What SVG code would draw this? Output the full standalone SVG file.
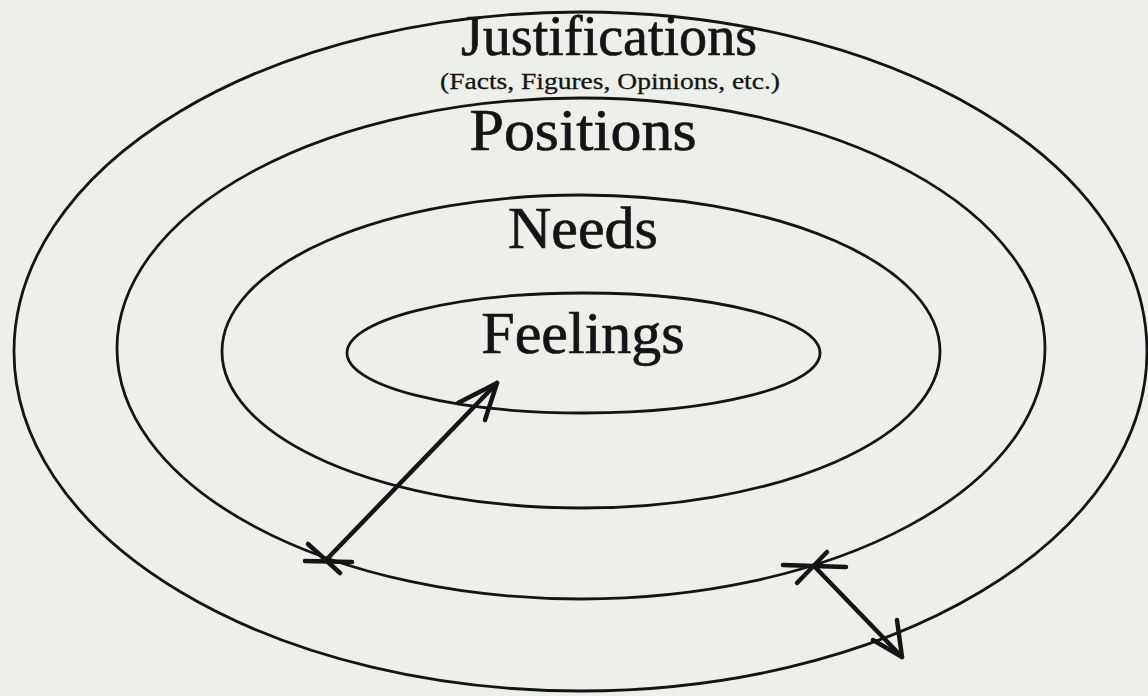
<svg xmlns="http://www.w3.org/2000/svg" width="1148" height="696" viewBox="0 0 1148 696">
  <style>
    .ring { fill: none; stroke: #141414; stroke-width: 2.8; }
    .label { font-family: "Liberation Serif", "Times New Roman", serif; fill: #141414; stroke: #141414; text-anchor: middle; }
    .big { font-size: 60px; stroke-width: 0.7; }
    .small { font-size: 24px; stroke-width: 0.3; }
    .arrow { fill: none; stroke: #141414; stroke-width: 4.5; stroke-linecap: round; stroke-linejoin: round; }
  </style>
  <rect width="1148" height="696" fill="#edefeb"/>
  <g id="justifications">
    <ellipse class="ring" cx="580.5" cy="351.5" rx="566.5" ry="339.5"/>
    <text class="label big" x="609" y="55" style="font-size:56px" textLength="296" lengthAdjust="spacingAndGlyphs">Justifications</text>
    <text class="label small" x="610" y="89" textLength="340" lengthAdjust="spacingAndGlyphs">(Facts, Figures, Opinions, etc.)</text>
  </g>
  <g id="positions">
    <ellipse class="ring" cx="581" cy="348.5" rx="464" ry="250.5"/>
    <text class="label big" x="583" y="150" textLength="227" lengthAdjust="spacingAndGlyphs">Positions</text>
  </g>
  <g id="needs">
    <ellipse class="ring" cx="581" cy="351.5" rx="359" ry="156.5"/>
    <text class="label big" x="583" y="248">Needs</text>
  </g>
  <g id="feelings">
    <ellipse class="ring" cx="583.5" cy="353" rx="236.5" ry="60"/>
    <text class="label big" x="583" y="353">Feelings</text>
  </g>
  <g id="connectors">
    <g id="arrow-in">
      <path class="arrow" d="M328,558 L497,383"/>
      <path class="arrow" d="M458,403 L497,383 L485,420"/>
      <path class="arrow" d="M305,561 L352,562"/>
      <path class="arrow" d="M308,544 L340,573"/>
    </g>
    <g id="arrow-out">
      <path class="arrow" d="M815,567 L902,657"/>
      <path class="arrow" d="M897,620 L902,657 L873,640"/>
      <path class="arrow" d="M783,565 L846,567"/>
      <path class="arrow" d="M827,552 L797,583"/>
    </g>
  </g>
</svg>
